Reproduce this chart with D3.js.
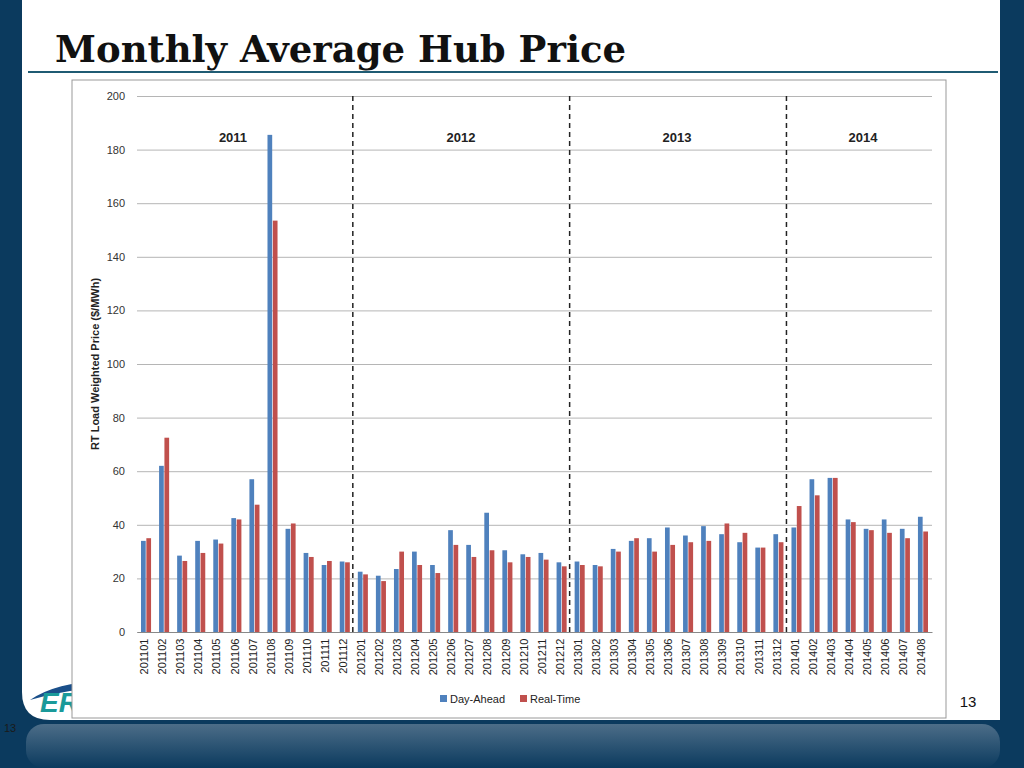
<!DOCTYPE html>
<html><head><meta charset="utf-8">
<script src="https://cdn.jsdelivr.net/npm/d3@7"></script>
<style>body{margin:0;background:#0b3a5e;}svg{display:block}</style>
</head><body>
<svg id="c" width="1024" height="768"></svg>
<script>
const months = [];
["2011","2012","2013"].forEach(y=>{for(let m=1;m<=12;m++)months.push(y+String(m).padStart(2,"0"));});
for(let m=1;m<=8;m++)months.push("2014"+String(m).padStart(2,"0"));
const dayAhead = [34,62,28.5,34,34.5,42.5,57,185.5,38.5,29.5,25,26.3,
 22.5,21,23.5,30,25,38,32.5,44.5,30.5,29,29.5,26,
 26.3,25,31,34,35,39,36,39.5,36.5,33.5,31.5,36.5,
 39,57,57.5,42,38.5,42,38.5,43];
const realTime = [35,72.5,26.5,29.5,33,42,47.5,153.5,40.5,28,26.5,26,
 21.5,19,30,25,22,32.5,28,30.5,26,28,27,24.5,
 25,24.5,30,35,30,32.5,33.5,34,40.5,37,31.5,33.5,
 47,51,57.5,41,38,37,35,37.5];
const yTicks = [0,20,40,60,80,100,120,140,160,180,200];
const years = ["2011","2012","2013","2014"];
const seriesNames = ["Day-Ahead","Real-Time"];
const colors = ["#4f81bd","#c0504d"];

const svg = d3.select("#c");
const defs = svg.append("defs");
const g1 = defs.append("linearGradient").attr("id","bar").attr("x1",0).attr("y1",0).attr("x2",0).attr("y2",1);
g1.append("stop").attr("offset",0).attr("stop-color","#4c6d88");
g1.append("stop").attr("offset",1).attr("stop-color","#0b3a5e");
svg.append("rect").attr("width",1024).attr("height",768).attr("fill","#0b3a5e");
svg.append("path").attr("d","M22,0 H1000 V720 H50 Q22,720 22,692 Z").attr("fill","#fff");
svg.append("rect").attr("x",26).attr("y",724).attr("width",974).attr("height",44).attr("rx",18).attr("fill","url(#bar)");
svg.append("text").attr("x",4).attr("y",732).attr("font-family","Arial").attr("font-size",11).attr("fill","#1a1a1a").text("13");
svg.append("text").attr("x",55).attr("y",62).attr("font-family","DejaVu Serif, serif").attr("font-weight","bold").attr("font-size",37).attr("fill","#111").text("Monthly Average Hub Price");
svg.append("line").attr("x1",28).attr("x2",998).attr("y1",72).attr("y2",72).attr("stroke","#1f5b73").attr("stroke-width",2);
svg.append("path").attr("d","M30,700 Q60,680 110,682 L110,688 Q70,688 30,700Z").attr("fill","#1a4f8a");
svg.append("text").attr("x",40).attr("y",712).attr("font-family","Arial").attr("font-weight","bold").attr("font-style","italic").attr("font-size",28).attr("fill","#1a9a9a").text("ERCOT");
svg.append("rect").attr("x",72).attr("y",80).attr("width",874).attr("height",638).attr("fill","#fff").attr("stroke","#999");
svg.append("text").attr("x",968).attr("y",707).attr("text-anchor","middle").attr("font-family","Arial").attr("font-size",15).attr("fill","#111").text("13");

const x = d3.scaleBand().domain(months).range([137,932]);
const y = d3.scaleLinear().domain([0,200]).range([632,96]);
const sub = d3.scaleBand().domain(seriesNames).range([0,x.bandwidth()]).paddingInner(0.12).paddingOuter(0.75);

const ga = svg.append("g").attr("transform","translate(137,0)").call(d3.axisLeft(y).tickValues(yTicks).tickSize(-795).tickPadding(12));
ga.select(".domain").remove();
ga.selectAll(".tick line").attr("stroke","#b5b5b5");
ga.selectAll(".tick text").attr("font-family","Arial").attr("font-size",11).attr("fill","#333");

const gx = svg.append("g").attr("transform","translate(0,632)").call(d3.axisBottom(x).tickSize(0).tickPadding(6));
gx.select(".domain").attr("stroke","#888");
gx.selectAll(".tick text").attr("font-family","Arial").attr("font-size",11).attr("fill","#222")
  .attr("transform","rotate(-90)").attr("text-anchor","end").attr("dx","-0.6em").attr("dy","-0.35em");

[dayAhead,realTime].forEach((vals,si)=>{
  svg.append("g").selectAll("rect").data(vals).join("rect")
    .attr("x",(d,i)=>x(months[i])+sub(seriesNames[si]))
    .attr("width",sub.bandwidth())
    .attr("y",d=>y(d)).attr("height",d=>y(0)-y(d)).attr("fill",colors[si]);
});

for(let k=1;k<4;k++){
  const xx = x(months[k*12]) - 1;
  svg.append("line").attr("x1",xx).attr("x2",xx).attr("y1",96).attr("y2",632).attr("stroke","#222").attr("stroke-width",1.5).attr("stroke-dasharray","5,4");
}
years.forEach((yr,k)=>{
  const cx = [233,461,677,863][k];
  svg.append("text").attr("x",cx).attr("y",142).attr("text-anchor","middle").attr("font-family","Arial").attr("font-weight","bold").attr("font-size",13).attr("fill","#222").text(yr);
});

svg.append("text").attr("transform","translate(99,364) rotate(-90)").attr("text-anchor","middle").attr("font-family","Arial").attr("font-weight","bold").attr("font-size",11).attr("fill","#222").text("RT Load Weighted Price ($/MWh)");

const leg = svg.append("g");
[[440,"Day-Ahead"],[520,"Real-Time"]].forEach(([lx,t],i)=>{
  leg.append("rect").attr("x",lx).attr("y",695).attr("width",7).attr("height",7).attr("fill",colors[i]);
  leg.append("text").attr("x",lx+10).attr("y",703).attr("font-family","Arial").attr("font-size",11).attr("fill","#222").text(t);
});
</script>
</body></html>
